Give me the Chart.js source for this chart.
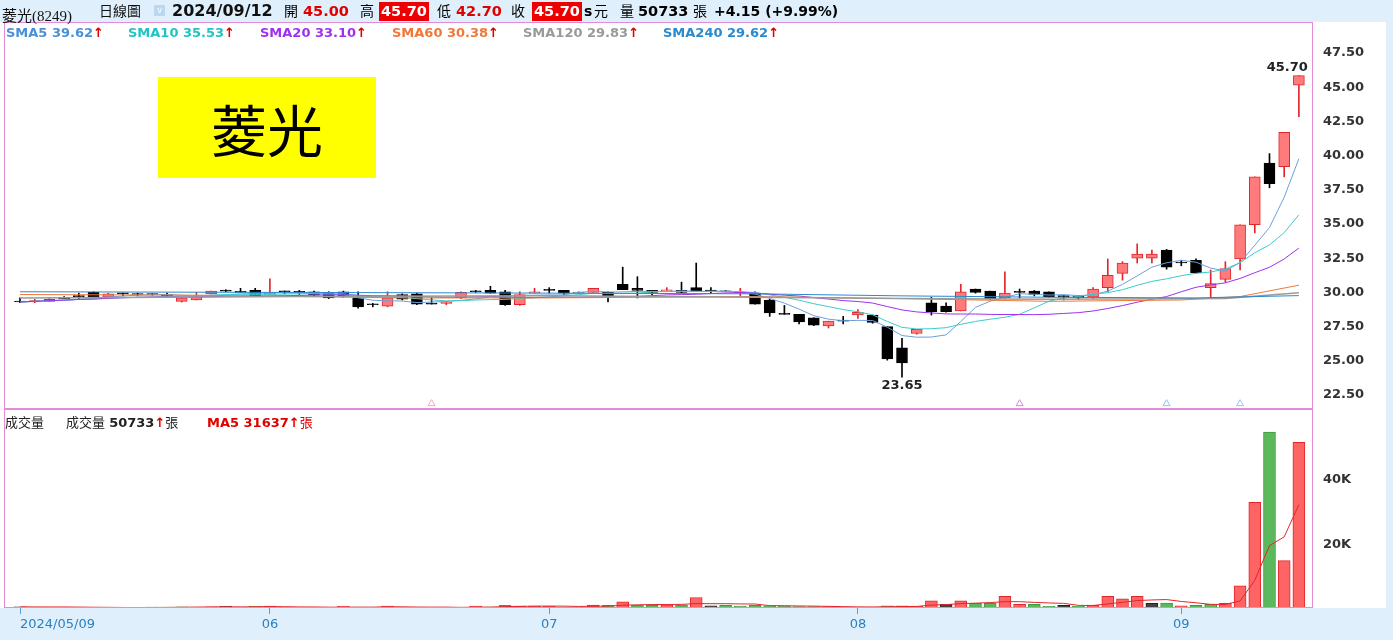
<!DOCTYPE html>
<html>
<head>
<meta charset="utf-8">
<script src="https://cdn.jsdelivr.net/npm/chart.js@4.4.1/dist/chart.umd.min.js"></script>
<style>
  body { margin: 0; width: 1393px; height: 640px; background: #dff0fc; overflow: hidden; position: relative; font-family: "DejaVu Sans", sans-serif; }
  #panel { position: absolute; left: 0; top: 22px; width: 1386px; height: 586px; background: #fff; }
  canvas { position: absolute; left: 0; }
  #price { top: 22px; }
  #vol { top: 409px; }
  .t { position: absolute; white-space: nowrap; line-height: 1; }
  .cjk { font-family: "Noto Sans CJK TC", sans-serif; }
  .b { font-weight: bold; }
  .red { color: #e00000; }
  .box { background: #ee0000; color: #fff; padding: 2px 2px; }
  .up { color: #e00000; font-weight: bold; }
  #logo { position: absolute; left: 158px; top: 77px; width: 218px; height: 101px; background: #ffff00;
          font: 56px "Noto Sans CJK TC", sans-serif; color: #000; text-align: center; line-height: 101px; }
</style>
</head>
<body>
<div id="panel"></div>
<canvas id="price" width="1393" height="387"></canvas>
<canvas id="vol" width="1393" height="231"></canvas>

<!-- header -->
<div class="t" style="left:2px;top:4px;font:15px 'Liberation Serif','Noto Sans CJK TC',serif;color:#111">菱光(8249)</div>
<div class="t cjk" style="left:99px;top:3px;font-size:14px;color:#111">日線圖</div>
<div class="t" style="left:154px;top:5px;width:11px;height:11px;background:#bcd8f0;color:#fff;font-size:8px;text-align:center;line-height:11px">v</div>
<div class="t b" style="left:172px;top:3px;font-size:16px;color:#111">2024/09/12</div>
<div class="t cjk" style="left:284px;top:3px;font-size:14px">開</div>
<div class="t b red" style="left:303px;top:4px;font-size:14.5px">45.00</div>
<div class="t cjk" style="left:360px;top:3px;font-size:14px">高</div>
<div class="t b box" style="left:379px;top:2px;font-size:14.5px">45.70</div>
<div class="t cjk" style="left:437px;top:3px;font-size:14px">低</div>
<div class="t b red" style="left:456px;top:4px;font-size:14.5px">42.70</div>
<div class="t cjk" style="left:511px;top:3px;font-size:14px">收</div>
<div class="t b box" style="left:532px;top:2px;font-size:14.5px">45.70</div>
<div class="t b" style="left:584px;top:4px;font-size:14px">s</div>
<div class="t cjk" style="left:594px;top:3px;font-size:14px">元</div>
<div class="t cjk" style="left:620px;top:3px;font-size:14px">量</div>
<div class="t b" style="left:638px;top:4px;font-size:14.5px">50733</div>
<div class="t cjk" style="left:693px;top:3px;font-size:14px">張</div>
<div class="t b" style="left:714px;top:4px;font-size:14px">+4.15 (+9.99%)</div>

<!-- MA legend -->
<div class="t b" style="left:6px;top:26px;font-size:13px;color:#4a90d9">SMA5 39.62<span class="up">↑</span></div>
<div class="t b" style="left:128px;top:26px;font-size:13px;color:#22c3c3">SMA10 35.53<span class="up">↑</span></div>
<div class="t b" style="left:260px;top:26px;font-size:13px;color:#a030f0">SMA20 33.10<span class="up">↑</span></div>
<div class="t b" style="left:392px;top:26px;font-size:13px;color:#f07838">SMA60 30.38<span class="up">↑</span></div>
<div class="t b" style="left:523px;top:26px;font-size:13px;color:#9a9a9a">SMA120 29.83<span class="up">↑</span></div>
<div class="t b" style="left:663px;top:26px;font-size:13px;color:#2a8ad0">SMA240 29.62<span class="up">↑</span></div>

<div id="logo">菱光</div>

<!-- volume legend -->
<div class="t cjk" style="left:5px;top:415px;font-size:13px;color:#222">成交量</div>
<div class="t" style="left:66px;top:415px;font-size:13px;color:#222"><span class="cjk">成交量</span> <b>50733</b><span class="up">↑</span><span class="cjk">張</span></div>
<div class="t red" style="left:207px;top:415px;font-size:13px"><b>MA5 31637</b><span class="up">↑</span><span class="cjk">張</span></div>

<script>
const dates = [
  "2024/05/09","2024/05/10","2024/05/13","2024/05/14","2024/05/15","2024/05/16","2024/05/17","2024/05/20","2024/05/21","2024/05/22",
  "2024/05/23","2024/05/24","2024/05/27","2024/05/28","2024/05/29","2024/05/30","2024/05/31","2024/06/03","2024/06/04","2024/06/05",
  "2024/06/06","2024/06/07","2024/06/11","2024/06/12","2024/06/13","2024/06/14","2024/06/17","2024/06/18","2024/06/19","2024/06/20",
  "2024/06/21","2024/06/24","2024/06/25","2024/06/26","2024/06/27","2024/06/28","2024/07/01","2024/07/02","2024/07/03","2024/07/04",
  "2024/07/05","2024/07/08","2024/07/09","2024/07/10","2024/07/11","2024/07/12","2024/07/15","2024/07/16","2024/07/17","2024/07/18",
  "2024/07/19","2024/07/22","2024/07/23","2024/07/26","2024/07/29","2024/07/30","2024/07/31","2024/08/01","2024/08/02","2024/08/05",
  "2024/08/06","2024/08/07","2024/08/08","2024/08/09","2024/08/12","2024/08/13","2024/08/14","2024/08/15","2024/08/16","2024/08/19",
  "2024/08/20","2024/08/21","2024/08/22","2024/08/23","2024/08/26","2024/08/27","2024/08/28","2024/08/29","2024/08/30","2024/09/02",
  "2024/09/03","2024/09/04","2024/09/05","2024/09/06","2024/09/09","2024/09/10","2024/09/11","2024/09/12"
];

const opens = [
  29.15,29.15,29.2,29.5,29.55,29.85,29.5,29.8,29.75,29.7,
  29.7,29.2,29.3,29.75,30.0,29.9,30.0,29.7,29.95,29.85,
  29.9,29.85,29.9,29.45,28.95,28.85,29.7,29.75,29.05,29.05,
  29.45,29.95,30.0,29.9,28.95,29.8,30.0,30.0,29.8,29.85,
  29.85,30.45,30.15,30.0,29.95,30.0,30.2,30.0,29.95,29.8,
  29.8,29.3,28.3,28.25,28.0,27.4,27.8,28.2,28.2,27.35,
  25.8,26.85,29.1,28.85,28.5,30.1,29.95,29.45,29.85,29.95,
  29.9,29.55,29.6,29.5,30.2,31.25,32.35,32.35,32.95,32.0,
  32.2,30.2,30.8,32.3,34.8,39.3,39.05,45.0
];
const highs = [
  29.45,29.35,29.45,29.55,29.8,29.9,29.8,29.8,29.8,29.75,
  29.8,29.45,29.85,29.95,30.05,30.15,30.15,30.85,29.95,30.0,
  29.95,29.9,29.95,29.9,29.05,29.9,29.75,29.8,29.45,29.2,
  29.9,30.0,30.3,30.0,29.9,30.15,30.2,30.0,29.9,30.15,
  29.9,31.7,31.0,30.0,30.2,30.6,32.0,30.2,30.0,30.15,
  29.9,29.35,28.9,28.25,28.0,27.75,28.1,28.6,28.2,27.35,
  26.5,27.15,29.5,29.1,30.45,30.1,29.95,31.35,30.1,30.0,
  29.9,29.6,29.6,30.2,32.3,32.1,33.4,32.95,33.0,32.2,
  32.3,31.5,32.1,34.8,38.3,40.0,41.55,45.7
];
const lows = [
  29.1,29.1,29.2,29.4,29.4,29.5,29.5,29.6,29.6,29.65,
  29.6,29.15,29.3,29.75,29.9,29.85,29.6,29.7,29.75,29.7,
  29.6,29.4,29.5,28.7,28.8,28.8,29.3,28.95,29.0,28.95,
  29.4,29.85,29.8,28.9,28.9,29.8,29.8,29.65,29.8,29.85,
  29.15,30.05,29.45,29.65,29.95,29.8,29.95,29.8,29.9,29.6,
  29.0,28.1,28.25,27.55,27.42,27.25,27.55,27.95,27.6,24.9,
  23.65,26.8,28.2,28.4,28.5,29.8,29.35,29.4,29.45,29.6,
  29.5,29.3,29.35,29.4,29.9,30.75,32.0,32.0,31.55,31.8,
  31.25,29.5,30.6,31.5,34.2,37.5,38.3,42.7
];
const closes = [
  29.15,29.25,29.35,29.4,29.55,29.5,29.75,29.75,29.7,29.7,
  29.6,29.45,29.5,29.95,29.95,29.85,29.6,29.8,29.9,29.85,
  29.65,29.45,29.55,28.8,28.95,29.45,29.35,29.0,29.0,29.15,
  29.85,29.9,29.8,28.95,29.7,29.9,30.0,29.8,29.85,30.15,
  29.6,30.05,30.0,29.85,30.05,29.85,29.95,29.95,29.9,29.85,
  29.0,28.35,28.25,27.7,27.45,27.75,27.75,28.4,27.65,25.0,
  24.7,27.15,28.45,28.45,29.9,29.85,29.4,29.8,29.85,29.7,
  29.55,29.55,29.45,30.1,31.1,32.0,32.65,32.65,31.7,32.0,
  31.3,30.5,31.6,34.8,38.3,37.8,41.55,45.7
];
// 張
const volumes = [
  350,300,300,300,150,150,100,100,100,300,
  300,350,300,350,500,200,500,600,200,150,
  150,200,500,300,200,600,200,200,150,200,
  200,600,300,800,600,600,550,300,300,900,
  800,1900,900,800,1000,900,3200,700,800,600,
  800,700,600,400,400,400,300,200,300,700,
  700,500,2200,1100,2200,1400,1400,3600,1100,1100,
  500,800,500,900,3600,2800,3600,1400,1500,700,
  800,1100,1400,6800,32300,53850,14500,50733
];

// long moving averages: [index, value]
const sma60Read  = [[0,29.7],[12,29.65],[26,29.45],[36,29.45],[50,29.55],[60,29.4],[70,29.2],[79,29.3],[83,29.55],[87,30.38]];
const sma120Read = [[0,29.45],[19,29.55],[36,29.6],[50,29.5],[60,29.4],[70,29.35],[82,29.4],[87,29.83]];
const sma240Read = [[0,29.9],[19,29.85],[36,29.8],[50,29.75],[60,29.6],[70,29.5],[80,29.45],[87,29.62]];

const priceTicks = [22.5,25,27.5,30,32.5,35,37.5,40,42.5,45,47.5];
const volTicks = [20000,40000];
// small signal markers under the candles
const markIdx = [28,68,78,83];
const markColors = ["#f2a6c6","#d58ad8","#8cc4ec","#9ec6f0"];

const n = dates.length;
const xMin = -1.09, xMax = 87.96;

function sma(arr, len) {
  return arr.map((_, i) => {
    const s = arr.slice(Math.max(0, i - len + 1), i + 1);
    return s.reduce((a, b) => a + b, 0) / s.length;
  });
}
const pts = arr => arr.map((v, i) => ({ x: i, y: v }));
const readPts = arr => arr.map(([x, y]) => ({ x, y }));

const isUp = i => closes[i] > opens[i];
const bodyFill = closes.map((c, i) => isUp(i) ? "#ff7b7b" : "#000");
const bodyLine = closes.map((c, i) => isUp(i) ? "#e3262a" : "#000");
const wickColor = closes.map((c, i) => isUp(i) ? "#e3262a" : "#000");

const volDir = closes.map((c, i) => {
  const prev = i === 0 ? opens[0] : closes[i - 1];
  return c > prev ? 1 : c < prev ? -1 : 0;
});
const volFill = volDir.map(d => d > 0 ? "#ff6464" : d < 0 ? "#5cb85c" : "#444");
const volLine = volDir.map(d => d > 0 ? "#e3262a" : d < 0 ? "#3d9a3d" : "#222");

const frame = {
  id: "frame",
  afterDraw(chart) {
    const a = chart.chartArea, ctx = chart.ctx;
    ctx.save();
    ctx.strokeStyle = "#e38ad9";
    ctx.lineWidth = 1;
    ctx.strokeRect(a.left + 0.5, a.top + 0.5, a.right - a.left - 1, a.bottom - a.top - 1);
    ctx.restore();
  }
};

const extremes = {
  id: "extremes",
  afterDatasetsDraw(chart) {
    const { x, y } = chart.scales, ctx = chart.ctx;
    const hi = highs.indexOf(Math.max(...highs));
    const lo = lows.indexOf(Math.min(...lows));
    ctx.save();
    ctx.font = "bold 13px 'DejaVu Sans'";
    ctx.fillStyle = "#222";
    ctx.textAlign = "right";
    ctx.textBaseline = "bottom";
    ctx.fillText(highs[hi].toFixed(2), x.getPixelForValue(hi) + 9, y.getPixelForValue(highs[hi]) - 1);
    ctx.textAlign = "center";
    ctx.textBaseline = "top";
    ctx.fillText(lows[lo].toFixed(2), x.getPixelForValue(lo), y.getPixelForValue(lows[lo]) + 2);
    ctx.restore();
  }
};

const line = (data, color, w) => ({
  type: "line", data, borderColor: color, borderWidth: w || 1, pointRadius: 0, tension: 0, order: 0
});

new Chart(document.getElementById("price"), {
  type: "bar",
  data: {
    datasets: [
      line(readPts(sma240Read), "#2a8ad0"),
      line(readPts(sma120Read), "#9a9a9a", 1.5),
      line(readPts(sma60Read), "#f07838"),
      line(pts(sma(closes, 20)), "#a030f0"),
      line(pts(sma(closes, 10)), "#3ccccc"),
      line(pts(sma(closes, 5)), "#6aa0dc"),
      {
        type: "scatter",
        data: markIdx.map(i => ({ x: i, y: 21.72 })),
        pointStyle: "triangle", pointRadius: 4, backgroundColor: "rgba(255,255,255,0)",
        borderColor: markColors, borderWidth: 1, order: 0
      },
      {
        label: "body",
        data: opens.map((o, i) => ({ x: i, y: [o, closes[i]] })),
        backgroundColor: bodyFill, borderColor: bodyLine, borderWidth: 1,
        borderSkipped: false, barThickness: 11, minBarLength: 1, grouped: false, order: 2
      },
      {
        label: "wick",
        data: lows.map((l, i) => ({ x: i, y: [l, highs[i]] })),
        backgroundColor: wickColor, barThickness: 1, grouped: false, order: 3
      }
    ]
  },
  options: {
    responsive: false,
    animation: false,
    layout: { autoPadding: false, padding: { left: 4, top: 0, right: 0, bottom: 0 } },
    plugins: { legend: { display: false }, tooltip: { enabled: false } },
    scales: {
      x: { type: "linear", min: xMin, max: xMax, offset: false, display: false },
      y: {
        position: "right", min: 21.33, max: 49.62,
        grid: { display: false }, border: { display: false },
        afterBuildTicks: s => { s.ticks = priceTicks.map(v => ({ value: v })); },
        afterFit: s => { s.width = 80; s.paddingTop = 0; s.paddingBottom = 0; },
        ticks: {
          callback: v => Number(v).toFixed(2),
          font: { family: "DejaVu Sans", size: 13, weight: "bold" },
          color: "#333", padding: 2, labelOffset: 2
        }
      }
    }
  },
  plugins: [frame, extremes]
});

// month-start ticks for the date axis
const tickIdx = [0];
dates.forEach((d, i) => { if (i > 0 && d.slice(5, 7) !== dates[i - 1].slice(5, 7)) tickIdx.push(i); });
const tickLabel = v => {
  if (v === 0) return dates[0];
  if (Number.isInteger(v) && v < n) return dates[v].slice(5, 7);
  return "";
};

new Chart(document.getElementById("vol"), {
  type: "bar",
  data: {
    datasets: [
      line(pts(sma(volumes, 5)), "#e3262a"),
      {
        data: pts(volumes),
        backgroundColor: volFill, borderColor: volLine, borderWidth: 1,
        borderSkipped: false, barThickness: 12, grouped: false, order: 1
      }
    ]
  },
  options: {
    responsive: false,
    animation: false,
    layout: { autoPadding: false, padding: { left: 4, top: 0, right: 0, bottom: 0 } },
    plugins: { legend: { display: false }, tooltip: { enabled: false } },
    scales: {
      x: {
        type: "linear", min: xMin, max: xMax, offset: false,
        afterBuildTicks: s => { s.ticks = tickIdx.concat([xMax]).map(v => ({ value: v })); },
        afterFit: s => { s.height = 32; s.paddingLeft = 0; s.paddingRight = 0; },
        grid: {
          offset: false, drawOnChartArea: false, drawTicks: true, tickLength: 6,
          color: c => (c.tick && c.tick.value === xMax) ? "rgba(0,0,0,0)" : "#5d9fd0"
        },
        border: { display: false },
        ticks: {
          autoSkip: false, maxRotation: 0, align: "inner", padding: 3,
          callback: v => tickLabel(v),
          font: { family: "DejaVu Sans", size: 13 }, color: "#2a7fc0"
        }
      },
      y: {
        position: "right", min: 0, max: 60900,
        grid: { display: false }, border: { display: false },
        afterBuildTicks: s => { s.ticks = volTicks.map(v => ({ value: v })); },
        afterFit: s => { s.width = 80; s.paddingTop = 0; s.paddingBottom = 0; },
        ticks: {
          callback: v => (v / 1000) + "K",
          font: { family: "DejaVu Sans", size: 13, weight: "bold" },
          color: "#333", padding: 2, labelOffset: 2
        }
      }
    }
  },
  plugins: [frame]
});
</script>
</body>
</html>
